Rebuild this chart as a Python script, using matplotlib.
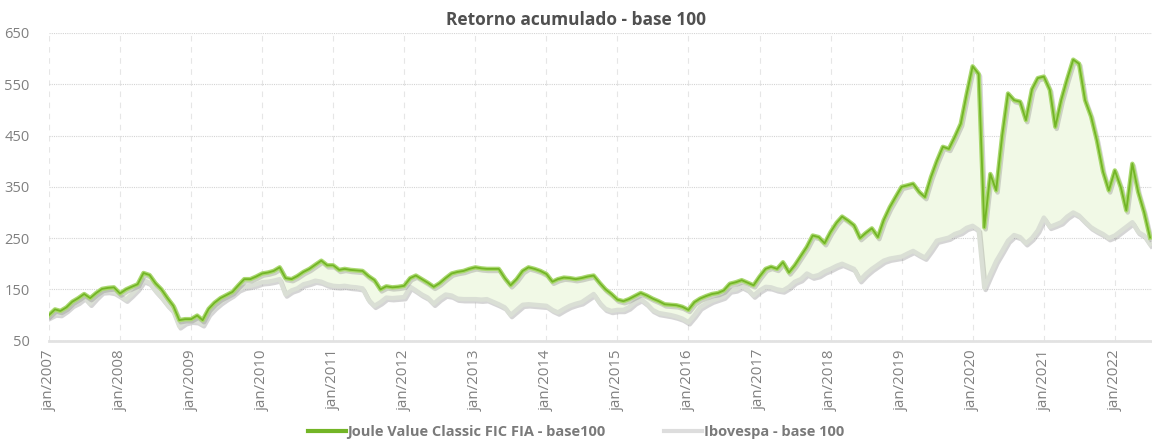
import matplotlib
matplotlib.use("Agg")
import matplotlib.pyplot as plt
import matplotlib.patheffects as pe
import pandas as pd

plt.rcParams['font.family'] = ['Open Sans', 'DejaVu Sans']

# monthly values, jan/2007 .. jul/2022
joule = [100, 111, 108, 115, 126, 133, 141, 133, 143, 151, 153, 154,
         142, 150, 155, 160, 182, 178, 162, 150, 133, 118, 90, 92,
         92, 99, 90, 112, 124, 133, 139, 145, 158, 170, 170, 175,
         181, 183, 186, 193, 172, 170, 176, 184, 190, 198, 206, 197,
         197, 188, 190, 188, 187, 186, 176, 168, 150, 156, 154, 155,
         157, 172, 177, 170, 163, 155, 162, 172, 181, 184, 186, 190,
         193, 191, 190, 190, 190, 172, 158, 170, 186, 193, 190, 186,
         180, 165, 170, 173, 172, 170, 172, 175, 177, 163, 150, 141,
         130, 127, 131, 137, 143, 138, 132, 127, 121, 120, 119, 116,
         110, 125, 132, 137, 141, 143, 148, 161, 164, 168, 163, 158,
         175, 190, 194, 190, 203, 183, 197, 215, 233, 255, 252, 240,
         262, 280, 292, 284, 275, 250, 260, 269, 252, 285, 310, 330,
         350, 353, 356, 340, 330, 369, 400, 428, 424, 447, 473, 530,
         585, 570, 271, 375, 343, 450, 532, 519, 516, 480, 540, 562,
         565, 539, 467, 520, 560, 598, 590, 519, 487, 440, 380, 343,
         382, 349, 304, 395, 340, 300, 251]

ibov = [97, 103, 102, 110, 120, 126, 135, 122, 135, 146, 147, 145,
        138, 130, 140, 152, 168, 163, 148, 135, 120, 108, 78, 86,
        89, 88, 82, 103, 115, 125, 133, 140, 150, 155, 157, 160,
        164, 165, 167, 170, 140, 148, 152, 160, 163, 167, 165, 160,
        157, 156, 157, 155, 154, 152, 130, 118, 125, 134, 133, 134,
        135, 155, 148, 140, 134, 122, 132, 140, 138, 132, 131, 131,
        131, 130, 131, 126, 121, 115, 100, 110, 120, 121, 120, 119,
        118, 110, 105, 112, 118, 122, 125, 133, 141, 124, 112, 108,
        110, 110, 115, 125, 131, 122, 110, 104, 102, 100, 97, 93,
        86, 100, 115, 122, 128, 132, 136, 148, 150, 156, 150, 138,
        148, 155, 154, 150, 148, 155, 165, 170, 181, 175, 178, 185,
        190, 196, 200, 195, 190, 168, 180, 190, 198, 206, 210, 212,
        214, 220, 225, 218, 212, 228, 245, 248, 251, 258, 262, 270,
        274, 266, 153, 180, 205, 225, 245, 256, 252, 240, 250, 265,
        290, 272, 276, 281, 292, 300, 294, 282, 271, 264, 258, 250,
        255, 264, 272, 281, 262, 255, 238]

dates = pd.date_range('2007-01-01', periods=len(joule), freq='MS')
years = list(range(2007, 2023))
tick_dates = [pd.Timestamp(f'{y}-01-01') for y in years]
tick_labels = [f'jan/{y}' for y in years]

fig = plt.figure(figsize=(11.52, 4.4), dpi=100)
ax = fig.add_axes([0.0425, 0.2257, 0.9575, 0.6993])

ax.fill_between(dates, ibov, joule, color='#f1f9e6', zorder=1)

shadow = [pe.SimpleLineShadow(offset=(1, -1.5), shadow_color='#777777', alpha=0.3), pe.Normal()]
ax.plot(dates, ibov, color='#dadfd5', lw=3.2, path_effects=shadow, zorder=3)
ax.plot(dates, joule, color='#a9d86f', lw=3.2, path_effects=shadow, zorder=4)
ax.plot(dates, joule, color='#73b526', lw=1.3, zorder=5)

ax.set_ylim(50, 650)
ax.set_yticks(range(50, 651, 100))
ax.set_xlim(dates[0], dates[-1] + pd.Timedelta(days=10))
ax.set_xticks(tick_dates)
ax.set_xticklabels(tick_labels, rotation=90, fontsize=10.8)

ax.grid(axis='y', color='#d4d4d4', ls=(0, (1, 1)), lw=0.8)
ax.grid(axis='x', color='#e6e6e6', ls=(0, (5, 5)), lw=0.8)
ax.set_axisbelow(True)
for s in ['top', 'right', 'left']:
    ax.spines[s].set_visible(False)
ax.spines['bottom'].set_color('#e2e2e2')
ax.spines['bottom'].set_linewidth(2)
ax.tick_params(axis='both', length=0, colors='#808080')
ax.tick_params(axis='y', labelsize=10.5, pad=14)
ax.tick_params(axis='x', pad=6)

fig.text(0.5, 0.955, 'Retorno acumulado - base 100', ha='center', va='center',
         fontsize=12.5, fontweight='bold', color='#505050')

h1, = ax.plot([], [], color='#73b526', lw=3)
h2, = ax.plot([], [], color='#dddddd', lw=3)
leg = fig.legend([h1, h2], ['Joule Value Classic FIC FIA - base100', 'Ibovespa - base 100'],
                 loc='center', bbox_to_anchor=(0.5, 0.018), ncol=2, frameon=False,
                 handlelength=2.6, handletextpad=0.1, columnspacing=4,
                 prop={'weight': 'bold', 'size': 10.5})
for t in leg.get_texts():
    t.set_color('#7a7a7a')

fig.savefig('out.png', dpi=100)
